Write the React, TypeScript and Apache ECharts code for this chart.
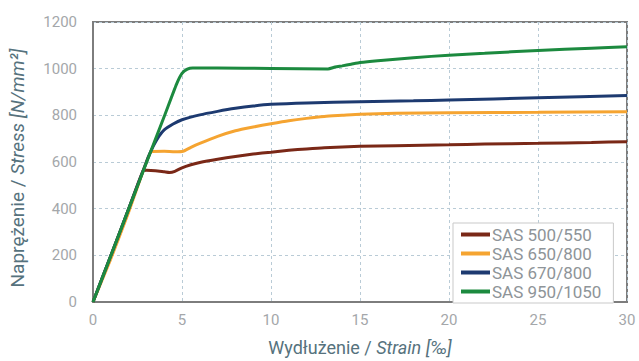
import React, { useEffect, useRef } from "react";
import * as echarts from "echarts";

const xTicks = [0, 5, 10, 15, 20, 25, 30];
const yTicks = [0, 200, 400, 600, 800, 1000, 1200];

const seriesNames = ["SAS 500/550", "SAS 650/800", "SAS 670/800", "SAS 950/1050"];
const seriesColors = ["#7a2817", "#f5a431", "#1d3a70", "#1c8a3f"];

const sas500: [number, number][] = [
  [0, 0], [1, 198], [2, 398], [2.8, 560], [3.0, 565], [3.5, 563], [4.0, 558], [4.3, 555], [4.6, 560],
  [5.0, 575], [5.5, 588], [6, 598], [7, 612], [8, 624], [9, 634], [10, 642], [11, 650],
  [12, 656], [13, 661], [15, 667], [17, 670], [20, 674], [22, 677], [25, 680], [28, 684], [30, 687],
];
const sas650: [number, number][] = [
  [0, 0], [1, 185], [2, 385], [3.0, 600], [3.3, 645], [4.0, 646], [4.6, 644], [5.06, 646],
  [5.5, 663], [6, 680], [7, 710], [8, 734], [9, 750], [10, 764], [11, 777], [12, 787],
  [13, 795], [14, 800], [15, 805], [17, 809], [20, 811], [25, 813], [30, 815],
];
const sas670: [number, number][] = [
  [0, 0], [1, 198], [2, 398], [3.1, 620], [3.4, 670], [3.7, 710], [4, 738], [4.5, 763], [5, 781],
  [6, 802], [7, 817], [8, 830], [9, 840], [10, 847], [12, 853], [15, 858], [18, 862],
  [20, 866], [25, 875], [30, 885],
];
const sas950: [number, number][] = [
  [0, 0], [1, 198], [2, 398], [3, 597], [4, 795], [4.7, 935], [5.0, 980], [5.3, 998], [5.6, 1003],
  [7, 1003], [10, 1001], [13.2, 999], [13.6, 1007], [14, 1012], [14.5, 1019], [15, 1026],
  [16, 1034], [18, 1047], [20, 1058], [22, 1066], [25, 1078], [28, 1088], [30, 1094],
];
const seriesData = [sas500, sas650, sas670, sas950];

const FONT = "Roboto, 'DejaVu Sans', sans-serif";

export default function App() {
  const ref = useRef<HTMLDivElement>(null);
  useEffect(() => {
    if (!ref.current) return;
    const chart = echarts.init(ref.current, undefined, { renderer: "svg" });
    chart.setOption({
      animation: false,
      backgroundColor: "#ffffff",
      textStyle: { fontFamily: FONT },
      grid: {
        left: 93, right: 12, top: 22, bottom: 59, show: true,
        outerBoundsMode: "none",
        containLabel: false,
        borderColor: "#7d7d7d", borderWidth: 2, backgroundColor: "transparent",
      },
      legend: {
        data: seriesNames,
        orient: "vertical",
        left: 453, top: 223,
        itemWidth: 29, itemHeight: 4, itemGap: 2,
        padding: [3, 12, 3, 8],
        backgroundColor: "#ffffff",
        borderColor: "#c9c9c9",
        borderWidth: 1,
        icon: "rect",
        textStyle: { color: "#8e9498", fontSize: 17, fontFamily: FONT, padding: [0, 0, 0, -3] },
      },
      xAxis: {
        type: "value",
        min: 0, max: 30, interval: 5,
        name: "{a|Wydłużenie / }{b|Strain [‰]}",
        nameLocation: "middle",
        nameGap: 36,
        nameTextStyle: {
          rich: {
            a: { color: "#56727d", fontSize: 18, fontFamily: FONT },
            b: { color: "#56727d", fontSize: 18, fontFamily: FONT, fontStyle: "italic" },
          },
        },
        axisLine: { show: true, lineStyle: { color: "#7d7d7d", width: 2 } },
        axisTick: { show: false },
        axisLabel: { color: "#a4a7aa", fontSize: 15, margin: 10, formatter: (v: number) => String(v) },
        splitLine: { show: true, lineStyle: { color: "#b9cbd6", type: [3, 3], width: 1 } },
      },
      yAxis: {
        type: "value",
        min: 0, max: 1200, interval: 200,
        name: "{a|Naprężenie / }{b|Stress [N/mm²]}",
        nameLocation: "middle",
        nameRotate: 90,
        nameGap: 66,
        nameTextStyle: {
          padding: [0, 12, 0, 0],
          rich: {
            a: { color: "#56727d", fontSize: 19, fontFamily: FONT },
            b: { color: "#56727d", fontSize: 19, fontFamily: FONT, fontStyle: "italic" },
          },
        },
        axisLine: { show: true, lineStyle: { color: "#7d7d7d", width: 2 } },
        axisTick: { show: false },
        axisLabel: { color: "#a4a7aa", fontSize: 15, margin: 16, formatter: (v: number) => String(v) },
        splitLine: { show: true, lineStyle: { color: "#b9cbd6", type: [3, 3], width: 1 } },
      },
      series: seriesNames.map((name, i) => ({
        name,
        type: "line",
        data: seriesData[i],
        showSymbol: false,
        smooth: 0.2,
        color: seriesColors[i],
        lineStyle: { width: 3, color: seriesColors[i] },
        z: 2 + i,
      })),
    });
    return () => chart.dispose();
  }, []);
  return (
    <div
      ref={ref}
      style={{ position: "fixed", left: 0, top: 0, width: 639, height: 361 }}
    />
  );
}
